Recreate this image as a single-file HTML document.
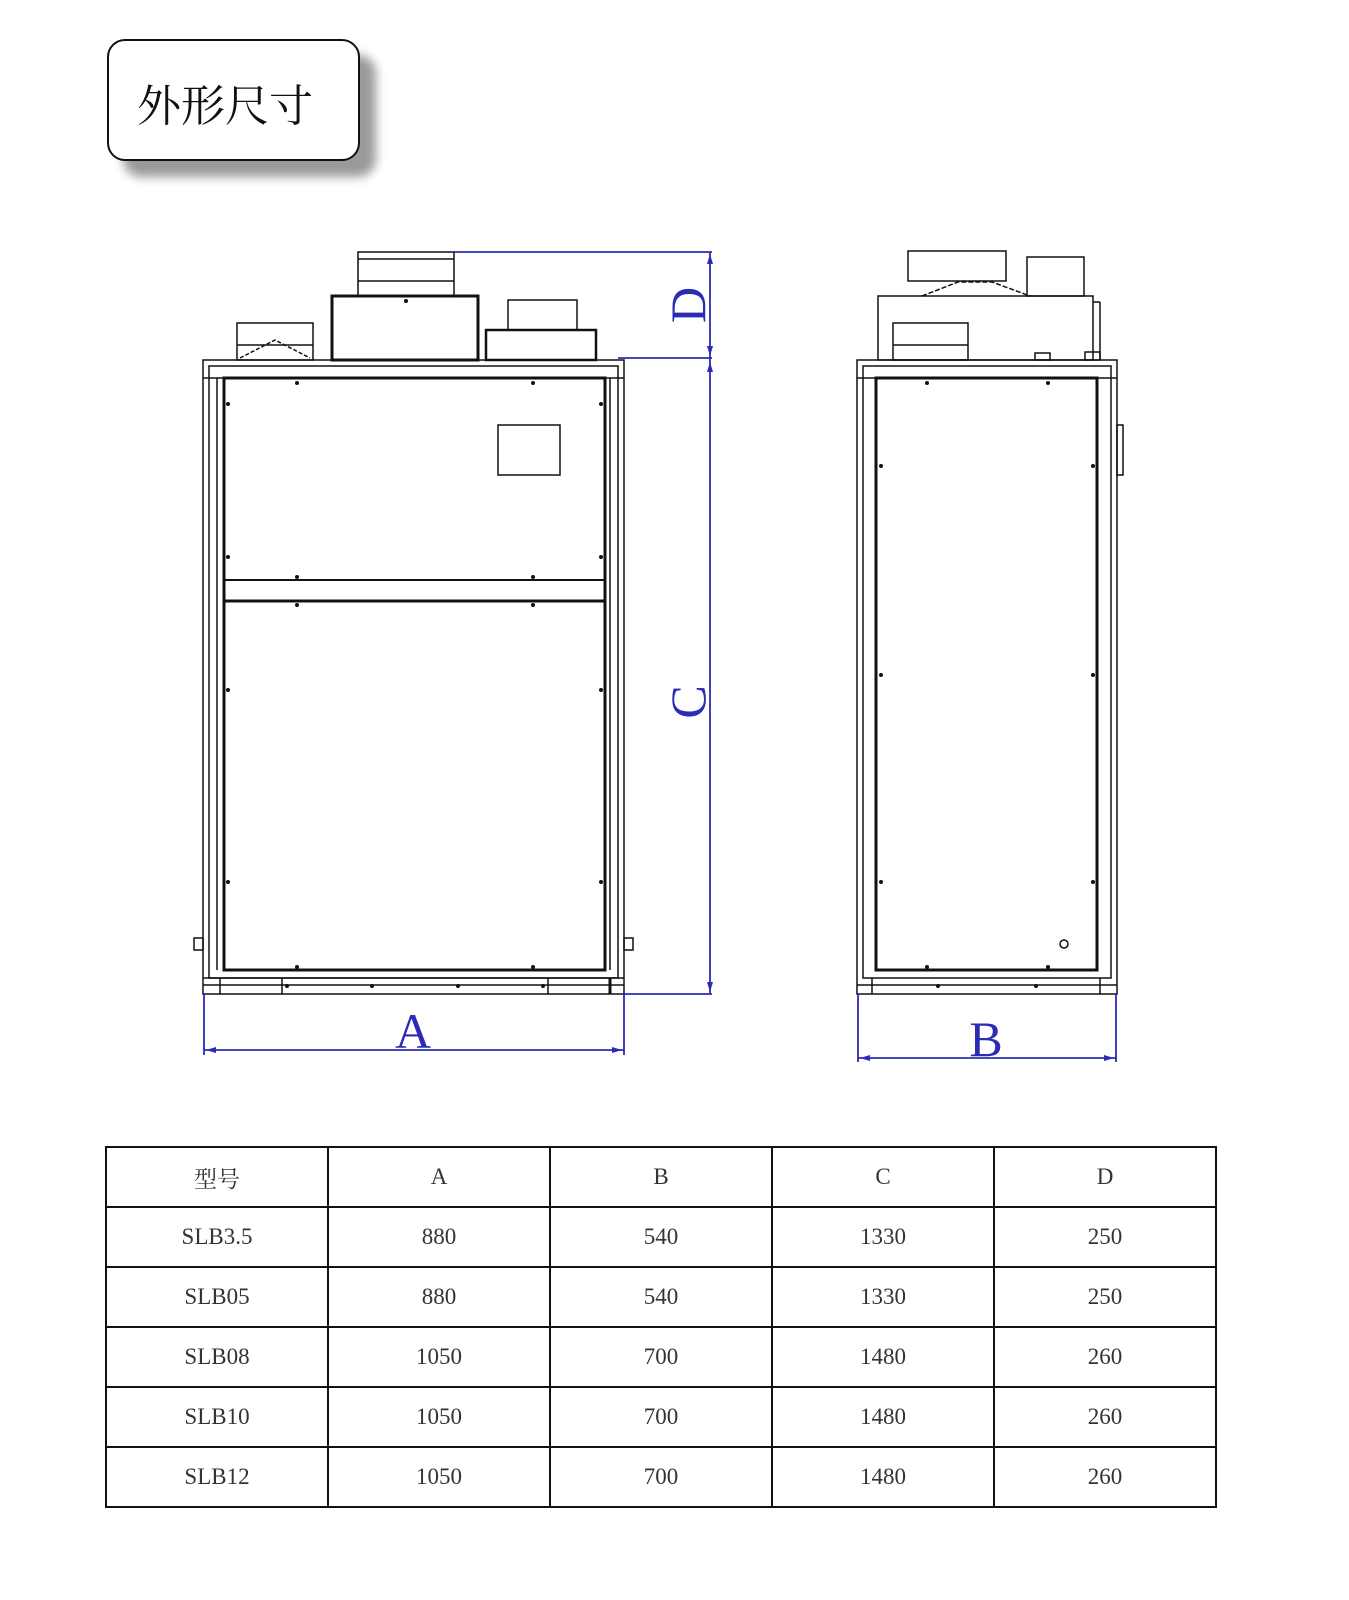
<!DOCTYPE html>
<html><head><meta charset="utf-8"><style>
body{margin:0;background:#fff;width:1349px;height:1600px;position:relative;overflow:hidden}
.title{position:absolute;left:107px;top:39px;border:2px solid #111;border-radius:18px;background:#fff;box-shadow:16px 16px 10px #9a9a9a;font-family:"Liberation Serif","Noto Serif CJK SC",serif;font-size:44px;line-height:131px;padding-left:28px;box-sizing:border-box;width:253px;height:122px;color:#111;overflow:hidden}
table{position:absolute;left:105px;top:1146px;border-collapse:collapse;font-family:"Liberation Serif","Noto Serif CJK SC",serif;font-size:23px;color:#333}
td{border:2px solid #111;width:220px;height:58px;text-align:center;padding:0}
</style></head><body>
<div class="title">外形尺寸</div>
<svg width="1349" height="1600" style="position:absolute;left:0;top:0" fill="none" stroke="#111" stroke-width="1.5">
<!-- front view -->
<rect x="203" y="360" width="421" height="634"/>
<rect x="209" y="366" width="409" height="612"/>
<line x1="217" y1="378" x2="217" y2="970"/><line x1="610" y1="378" x2="610" y2="970"/>
<line x1="203" y1="378" x2="624" y2="378"/>
<rect x="224" y="378" width="381" height="592" stroke-width="3"/>
<line x1="224" y1="580" x2="605" y2="580" stroke-width="2"/>
<line x1="224" y1="601" x2="605" y2="601" stroke-width="3"/>
<rect x="498" y="425" width="62" height="50"/>
<line x1="203" y1="978" x2="624" y2="978"/><line x1="203" y1="985" x2="624" y2="985"/>
<line x1="220" y1="978" x2="220" y2="994"/><line x1="282" y1="978" x2="282" y2="994"/><line x1="548" y1="978" x2="548" y2="994"/><line x1="610" y1="978" x2="610" y2="994" stroke-width="3"/>
<rect x="194" y="938" width="9" height="12"/><rect x="624" y="938" width="9" height="12"/>
<rect x="237" y="323" width="76" height="37"/><line x1="237" y1="345" x2="313" y2="345"/>
<polyline points="240,358 275,340 310,358" stroke-dasharray="4 2"/>
<rect x="332" y="296" width="146" height="64" stroke-width="3"/>
<rect x="358" y="252" width="96" height="44"/><line x1="358" y1="259" x2="454" y2="259"/><line x1="358" y1="281" x2="454" y2="281"/>
<rect x="486" y="330" width="110" height="30" stroke-width="2.5"/>
<rect x="508" y="300" width="69" height="30"/>
<g fill="#111" stroke="none">
<circle cx="297" cy="383" r="2"/><circle cx="533" cy="383" r="2"/><circle cx="228" cy="404" r="2"/><circle cx="601" cy="404" r="2"/>
<circle cx="228" cy="557" r="2"/><circle cx="601" cy="557" r="2"/><circle cx="297" cy="577" r="2"/><circle cx="533" cy="577" r="2"/>
<circle cx="297" cy="605" r="2"/><circle cx="533" cy="605" r="2"/><circle cx="228" cy="690" r="2"/><circle cx="601" cy="690" r="2"/>
<circle cx="228" cy="882" r="2"/><circle cx="601" cy="882" r="2"/><circle cx="297" cy="967" r="2"/><circle cx="533" cy="967" r="2"/>
<circle cx="287" cy="986" r="2"/><circle cx="372" cy="986" r="2"/><circle cx="458" cy="986" r="2"/><circle cx="543" cy="986" r="2"/>
<circle cx="406" cy="301" r="2"/>
<circle cx="927" cy="383" r="2"/><circle cx="1048" cy="383" r="2"/><circle cx="881" cy="466" r="2"/><circle cx="1093" cy="466" r="2"/>
<circle cx="881" cy="675" r="2"/><circle cx="1093" cy="675" r="2"/><circle cx="881" cy="882" r="2"/><circle cx="1093" cy="882" r="2"/>
<circle cx="927" cy="967" r="2"/><circle cx="1048" cy="967" r="2"/><circle cx="938" cy="986" r="2"/><circle cx="1036" cy="986" r="2"/>
</g>
<!-- side view -->
<rect x="857" y="360" width="260" height="634"/>
<rect x="863" y="366" width="248" height="612"/>
<line x1="857" y1="378" x2="1117" y2="378"/>
<rect x="876" y="378" width="221" height="592" stroke-width="3"/>
<line x1="857" y1="985" x2="1117" y2="985"/>
<line x1="872" y1="978" x2="872" y2="994"/><line x1="1100" y1="978" x2="1100" y2="994"/>
<rect x="1117" y="425" width="6" height="50"/>
<circle cx="1064" cy="944" r="4"/>
<rect x="878" y="296" width="215" height="64"/><line x1="1093" y1="302" x2="1100" y2="302"/><line x1="1100" y1="302" x2="1100" y2="360"/>
<rect x="908" y="251" width="98" height="30"/>
<polyline points="922,296 958,282 992,282 1030,296" stroke-dasharray="5 2"/>
<rect x="1027" y="257" width="57" height="39"/>
<rect x="893" y="323" width="75" height="37"/><line x1="893" y1="345" x2="968" y2="345"/>
<rect x="1035" y="353" width="15" height="7"/><rect x="1085" y="352" width="15" height="8"/>
<!-- dimensions -->
<g stroke="#2b2bb5" stroke-width="1.8">
<line x1="454" y1="252" x2="712" y2="252"/><line x1="618" y1="358" x2="712" y2="358"/>
<line x1="710" y1="252" x2="710" y2="994"/><line x1="624" y1="994" x2="712" y2="994"/>
<line x1="204" y1="994" x2="204" y2="1055"/><line x1="624" y1="994" x2="624" y2="1055"/>
<line x1="204" y1="1050" x2="624" y2="1050"/>
<line x1="858" y1="994" x2="858" y2="1062"/><line x1="1116" y1="994" x2="1116" y2="1062"/>
<line x1="858" y1="1058" x2="1116" y2="1058"/>
</g>
<g fill="#2b2bb5" stroke="none">
<path d="M710 254l-3 10h6z"/><path d="M710 356l-3-10h6z"/><path d="M710 362l-3 10h6z"/><path d="M710 992l-3-10h6z"/>
<path d="M206 1050l10-3v6z"/><path d="M622 1050l-10-3v6z"/><path d="M860 1058l10-3v6z"/><path d="M1114 1058l-10-3v6z"/>
</g>
<g fill="#2b2bb5" stroke="none" font-family="Liberation Serif,serif" font-size="50">
<text transform="translate(705,305) rotate(-90)" text-anchor="middle">D</text>
<text transform="translate(705,702) rotate(-90)" text-anchor="middle">C</text>
<text x="413" y="1048" text-anchor="middle">A</text>
<text x="986" y="1056" text-anchor="middle">B</text>
</g>
</svg>
<table>
<tr><td>型号</td><td>A</td><td>B</td><td>C</td><td>D</td></tr>
<tr><td>SLB3.5</td><td>880</td><td>540</td><td>1330</td><td>250</td></tr>
<tr><td>SLB05</td><td>880</td><td>540</td><td>1330</td><td>250</td></tr>
<tr><td>SLB08</td><td>1050</td><td>700</td><td>1480</td><td>260</td></tr>
<tr><td>SLB10</td><td>1050</td><td>700</td><td>1480</td><td>260</td></tr>
<tr><td>SLB12</td><td>1050</td><td>700</td><td>1480</td><td>260</td></tr>
</table>
</body></html>
